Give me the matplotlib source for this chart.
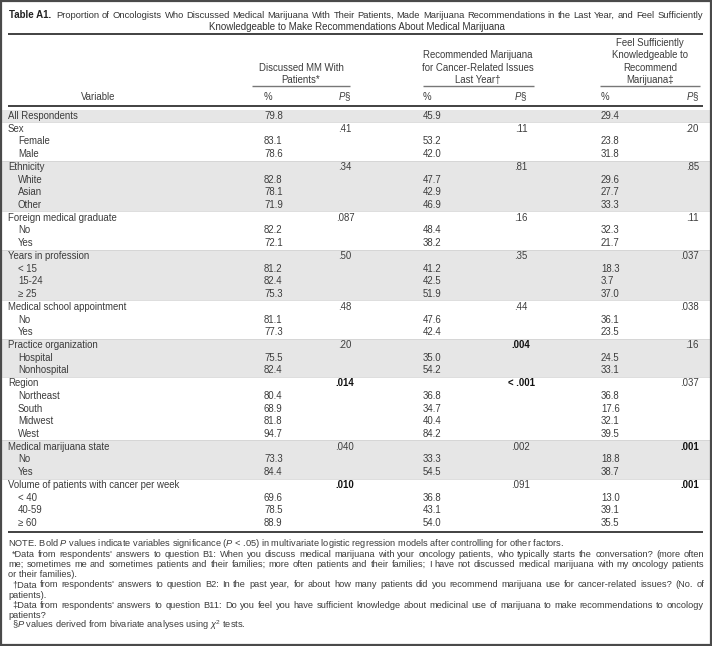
import matplotlib
matplotlib.use('Agg')
import matplotlib.pyplot as plt
from matplotlib.patches import Rectangle

plt.rcParams['font.family'] = ['Liberation Sans', 'DejaVu Sans']
plt.rcParams['mathtext.fontset'] = 'custom'
plt.rcParams['mathtext.rm'] = 'Liberation Sans'
plt.rcParams['mathtext.it'] = 'Liberation Sans:italic'
plt.rcParams['mathtext.bf'] = 'Liberation Sans:bold'

# ---------------- data ----------------
title_label = "Table A1."
title_line1 = ("Proportion of Oncologists Who Discussed Medical Marijuana With Their Patients, "
               "Made Marijuana Recommendations in the Last Year, and Feel Sufficiently")
title_line2 = "Knowledgeable to Make Recommendations About Medical Marijuana"

group_headers = [["Discussed MM With", "Patients*"],
                 ["Recommended Marijuana", "for Cancer-Related Issues", "Last Year\u2020"],
                 ["Feel Sufficiently", "Knowledgeable to", "Recommend", "Marijuana\u2021"]]

labels = ["All Respondents", "Sex", "Female", "Male", "Ethnicity", "White", "Asian", "Other",
          "Foreign medical graduate", "No", "Yes", "Years in profession", "< 15", "15-24", "\u2265 25",
          "Medical school appointment", "No", "Yes", "Practice organization", "Hospital", "Nonhospital",
          "Region", "Northeast", "South", "Midwest", "West", "Medical marijuana state", "No", "Yes",
          "Volume of patients with cancer per week", "< 40", "40-59", "\u2265 60"]
indented = [0, 0, 1, 1, 0, 1, 1, 1, 0, 1, 1, 0, 1, 1, 1, 0, 1, 1, 0, 1, 1,
            0, 1, 1, 1, 1, 0, 1, 1, 0, 1, 1, 1]
group_id = [0, 1, 1, 1, 2, 2, 2, 2, 3, 3, 3, 4, 4, 4, 4, 5, 5, 5, 6, 6, 6,
            7, 7, 7, 7, 7, 8, 8, 8, 9, 9, 9, 9]

discussed_pct = ["79.8", "", "83.1", "78.6", "", "82.8", "78.1", "71.9", "", "82.2", "72.1", "",
                 "81.2", "82.4", "75.3", "", "81.1", "77.3", "", "75.5", "82.4", "", "80.4", "68.9",
                 "81.8", "94.7", "", "73.3", "84.4", "", "69.6", "78.5", "88.9"]
discussed_p = ["", ".41", "", "", ".34", "", "", "", ".087", "", "", ".50", "", "", "", ".48", "", "",
               ".20", "", "", ".014", "", "", "", "", ".040", "", "", ".010", "", "", ""]
recommended_pct = ["45.9", "", "53.2", "42.0", "", "47.7", "42.9", "46.9", "", "48.4", "38.2", "",
                   "41.2", "42.5", "51.9", "", "47.6", "42.4", "", "35.0", "54.2", "", "36.8", "34.7",
                   "40.4", "84.2", "", "33.3", "54.5", "", "36.8", "43.1", "54.0"]
recommended_p = ["", ".11", "", "", ".81", "", "", "", ".16", "", "", ".35", "", "", "", ".44", "", "",
                 ".004", "", "", "< .001", "", "", "", "", ".002", "", "", ".091", "", "", ""]
knowledge_pct = ["29.4", "", "23.8", "31.8", "", "29.6", "27.7", "33.3", "", "32.3", "21.7", "",
                 "18.3", "3.7", "37.0", "", "36.1", "23.5", "", "24.5", "33.1", "", "36.8", "17.6",
                 "32.1", "39.5", "", "18.8", "38.7", "", "13.0", "39.1", "35.5"]
knowledge_p = ["", ".20", "", "", ".85", "", "", "", ".11", "", "", ".037", "", "", "", ".038", "", "",
               ".16", "", "", ".037", "", "", "", "", ".001", "", "", ".001", "", "", ""]
bold_rows_discussed = [21, 29]
bold_rows_recommended = [18, 21]
bold_rows_knowledge = [26, 29]

notes = [
    (False, "NOTE. Bold $P$ values indicate variables significance ($P$ < .05) in multivariate logistic regression models after controlling for other factors."),
    (True, "*Data from respondents' answers to question B1: When you discuss medical marijuana with your oncology patients, who typically starts the conversation? (more often"),
    (True, "me; sometimes me and sometimes patients and their families; more often patients and their families; I have not discussed medical marijuana with my oncology patients"),
    (False, "or their families)."),
    (True, "\u2020Data from respondents' answers to question B2: In the past year, for about how many patients did you recommend marijuana use for cancer-related issues? (No. of"),
    (False, "patients)."),
    (True, "\u2021Data from respondents' answers to question B11: Do you feel you have sufficient knowledge about medicinal use of marijuana to make recommendations to oncology"),
    (False, "patients?"),
    (False, "\u00a7$P$ values derived from bivariate analyses using $\\chi^2$ tests."),
]
note_indent = [0, 4, 0, 0, 4, 0, 4, 0, 4]

# ---------------- layout ----------------
W, H = 712, 646
fig = plt.figure(figsize=(W / 100, H / 100), dpi=100)
ax = fig.add_axes([0, 0, 1, 1])
ax.set_xlim(0, W)
ax.set_ylim(H, 0)
ax.axis('off')
fig.canvas.draw()
renderer = fig.canvas.get_renderer()

TXT = '#3c3c3c'
SHADE = '#e6e6e6'
FS = 6.9


def width(t):
    return t.get_window_extent(renderer).width


def fit_size(s, target, base=7.0):
    t = ax.text(0, 0, s, fontsize=base)
    w = width(t)
    t.remove()
    return base * target / w


def justified(s, y, x0, x1, size, color, weight='normal'):
    words = s.split(' ')
    ts = [ax.text(x0, y, w, fontsize=size, color=color, va='center', ha='left', fontweight=weight)
          for w in words]
    ws = [width(t) for t in ts]
    gap = (x1 - x0 - sum(ws)) / max(len(ws) - 1, 1)
    x = x0
    for t, w in zip(ts, ws):
        t.set_x(x)
        x += w + gap


# outer frame
ax.add_patch(Rectangle((0.8, 0.8), W - 1.6, H - 1.6, fill=False, ec='#4a4a4a', lw=1.6, zorder=5))

# title
t0 = ax.text(9, 15, title_label, fontsize=7.0, fontweight='bold', color='#222222', va='center', ha='left')
xw = 9 + width(t0) + 5
ts1 = fit_size(title_line1, 703 - xw) * 0.995
justified(title_line1, 15, xw, 703, ts1, '#333333')
ax.text(357, 27, title_line2, fontsize=7.0, color='#333333', va='center', ha='center')
ax.plot([8, 703], [34, 34], color='#333333', lw=1.3, solid_capstyle='butt')

# group headers
centers = [301, 478, 650]
spans = [(252, 350), (423, 534), (600, 700)]
for hdr, cx, (a, b) in zip(group_headers, centers, spans):
    n = len(hdr)
    for k, line in enumerate(hdr):
        y = 79.7 - (n - 1 - k) * 12.1
        ax.text(cx, y, line, fontsize=FS, color=TXT, va='center', ha='center')
    ax.plot([a, b], [86, 86], color='#777777', lw=1.0, solid_capstyle='butt')

ax.text(98, 97, "Variable", fontsize=FS, color=TXT, va='center', ha='center')
pct_x = [264, 423, 601]
p_x = [345, 521, 699]
for px in pct_x:
    ax.text(px, 97, "%", fontsize=FS, color=TXT, va='center', ha='left')
for k, px in enumerate(p_x):
    ax.text(px if k == 2 else px + 6, 97, "$P$\u00a7", fontsize=FS, color=TXT, va='center',
            ha='right')
ax.plot([8, 703], [106, 106], color='#333333', lw=1.3, solid_capstyle='butt')

# rows
y0, dy = 116.0, 12.72
for i in range(len(labels)):
    y = y0 + i * dy
    if group_id[i] % 2 == 0:
        ax.add_patch(Rectangle((1.5, y - dy / 2), W - 3, dy, fc=SHADE, ec='none', zorder=0))
    if i > 0 and group_id[i] != group_id[i - 1]:
        ax.plot([1.5, W - 1.5], [y - dy / 2, y - dy / 2], color='#d0d0d0', lw=0.5, zorder=1)
    ax.text(18 if indented[i] else 8, y, labels[i], fontsize=FS, color=TXT, va='center', ha='left')
    for col, (pv, pp, brows) in enumerate([(discussed_pct, discussed_p, bold_rows_discussed),
                                            (recommended_pct, recommended_p, bold_rows_recommended),
                                            (knowledge_pct, knowledge_p, bold_rows_knowledge)]):
        if pv[i]:
            ax.text(pct_x[col], y, pv[i], fontsize=FS, color=TXT, va='center', ha='left')
        if pp[i]:
            bold = i in brows
            ax.text(p_x[col], y, pp[i], fontsize=FS, color='#111111' if bold else TXT,
                    fontweight='bold' if bold else 'normal', va='center',
                    ha='right' if col == 2 else 'center')

y_bottom = y0 + (len(labels) - 1) * dy + 8.5
ax.plot([8, 703], [y_bottom, y_bottom], color='#333333', lw=1.3, solid_capstyle='butt')

# notes
ny0, ndy = 544, 10.2
sizes = [fit_size(s, 704 - 8 - note_indent[k]) for k, (j, s) in enumerate(notes) if j]
NFS = min(sizes) * 0.985
for k, (just, s) in enumerate(notes):
    y = ny0 + k * ndy
    x0 = 8 + note_indent[k]
    if just:
        justified(s, y, x0, 704, NFS, TXT)
    else:
        ax.text(x0, y, s, fontsize=NFS, color=TXT, va='center', ha='left')

fig.savefig('out.png', dpi=100)
